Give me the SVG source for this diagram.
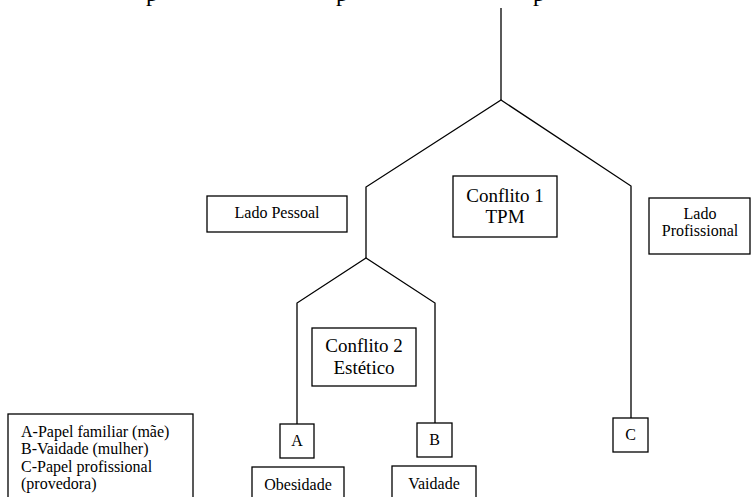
<svg xmlns="http://www.w3.org/2000/svg" width="752" height="497" viewBox="0 0 752 497">
<style>
  .box { fill: #ffffff; stroke: #000000; stroke-width: 1.3; }
  .ln { fill: none; stroke: #000000; stroke-width: 1.3; }
  text { font-family: "Liberation Serif", "Times New Roman", serif; fill: #000000; }
  .t16 { font-size: 16px; }
  .t19 { font-size: 19px; }
  .c { text-anchor: middle; }
</style>
<rect width="752" height="497" fill="#ffffff"/>
<g id="heading-cut">
  <text x="152" y="1" class="c" style="font-size:24px">p</text>
  <text x="342" y="1" class="c" style="font-size:24px">p</text>
  <text x="539" y="1" class="c" style="font-size:24px">p</text>
</g>
<g id="connectors">
  <polyline class="ln" points="501,8 501,100"/>
  <polyline class="ln" points="366,258 366,187 501,100 631,186 631,418"/>
  <polyline class="ln" points="297,424 297,303 366,258 435,303 435,423"/>
</g>
<g id="lado-pessoal">
  <rect class="box" x="207" y="196" width="140" height="36"/>
  <text x="277" y="218" class="t16 c">Lado Pessoal</text>
</g>
<g id="conflito1">
  <rect class="box" x="453" y="176" width="104" height="61"/>
  <text x="505" y="202" class="t19 c">Conflito 1</text>
  <text x="505" y="223" class="t19 c">TPM</text>
</g>
<g id="lado-profissional">
  <rect class="box" x="649" y="198" width="101" height="56"/>
  <text x="700" y="219" class="t16 c">Lado</text>
  <text x="700" y="236" class="t16 c">Profissional</text>
</g>
<g id="conflito2">
  <rect class="box" x="312" y="328" width="104" height="58"/>
  <text x="364" y="352" class="t19 c">Conflito 2</text>
  <text x="364" y="374" class="t19 c">Estético</text>
</g>
<g id="node-a">
  <rect class="box" x="280" y="424" width="34" height="34"/>
  <text x="297" y="446" class="t16 c">A</text>
</g>
<g id="node-b">
  <rect class="box" x="417" y="423" width="35" height="34"/>
  <text x="434.5" y="445" class="t16 c">B</text>
</g>
<g id="node-c">
  <rect class="box" x="613" y="418" width="35" height="34"/>
  <text x="630.5" y="440" class="t16 c">C</text>
</g>
<g id="obesidade">
  <rect class="box" x="252" y="467" width="92" height="40"/>
  <text x="298" y="490" class="t16 c">Obesidade</text>
</g>
<g id="vaidade">
  <rect class="box" x="392" y="466" width="84" height="40"/>
  <text x="434" y="489" class="t16 c">Vaidade</text>
</g>
<g id="legenda">
  <rect class="box" x="8" y="414" width="185" height="95"/>
  <text x="21" y="437" class="t16">A-Papel familiar (mãe)</text>
  <text x="21" y="454" class="t16">B-Vaidade (mulher)</text>
  <text x="21" y="472" class="t16">C-Papel profissional</text>
  <text x="21" y="489" class="t16">(provedora)</text>
</g>
</svg>
